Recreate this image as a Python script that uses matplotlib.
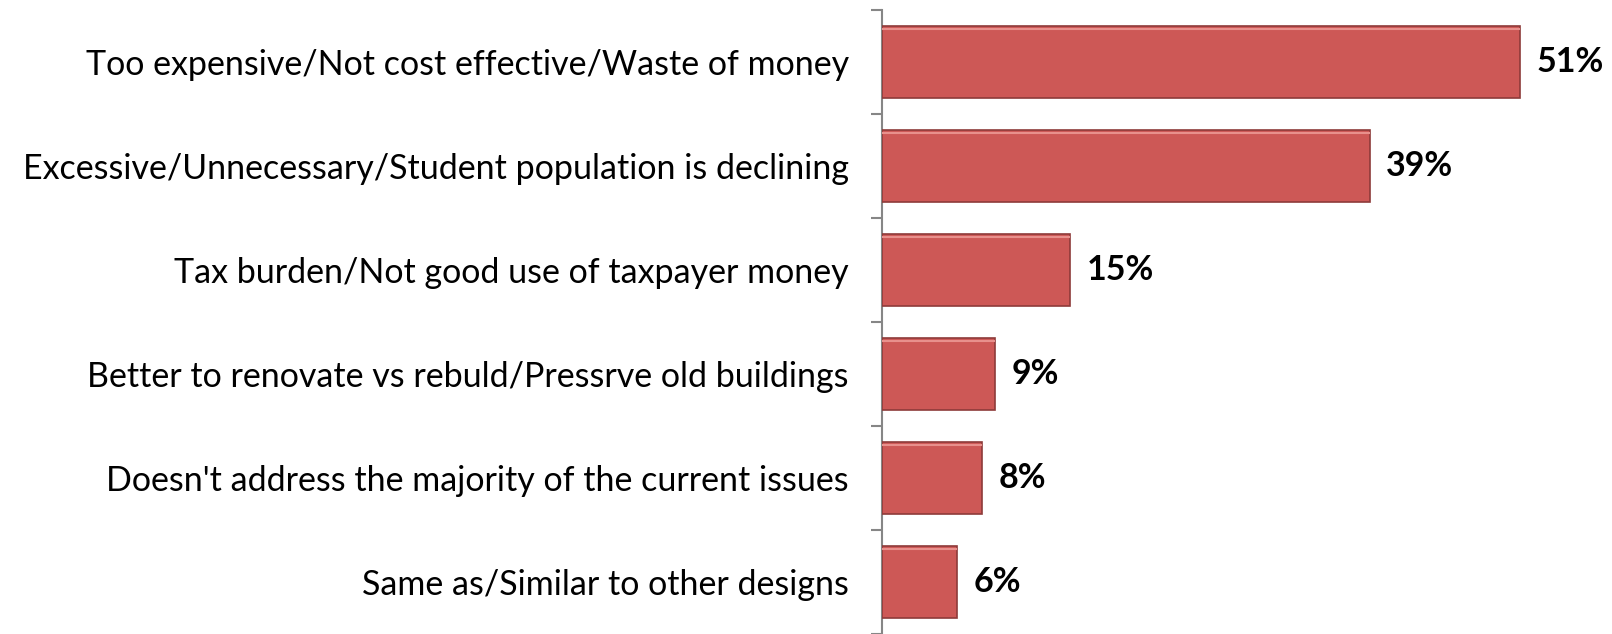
import matplotlib.pyplot as plt
import numpy as np

plt.rcParams['font.family'] = ['Lato', 'DejaVu Sans']

reasons = [
    "Too expensive/Not cost effective/Waste of money",
    "Excessive/Unnecessary/Student population is declining",
    "Tax burden/Not good use of taxpayer money",
    "Better to renovate vs rebuld/Pressrve old buildings",
    "Doesn't address the majority of the current issues",
    "Same as/Similar to other designs",
]
pct = [51, 39, 15, 9, 8, 6]

fig = plt.figure(figsize=(16.12, 6.34), dpi=100)
ax = fig.add_axes([882 / 1612, 0.0, 730 / 1612, 624 / 634])

y = np.arange(len(reasons))
bars = ax.barh(y, pct, height=0.70, color='#CD5856',
               edgecolor='#8E3B3A', linewidth=1.2, zorder=3)

# light bevel along the top of each bar
for b in bars:
    x0, y0, w, h = b.get_x(), b.get_y(), b.get_width(), b.get_height()
    ax.plot([x0, x0 + w], [y0 + 0.03, y0 + 0.03], color='#E8908C',
            lw=1.5, zorder=4, solid_capstyle='butt')

for yi, v in zip(y, pct):
    ax.text(v + 1.35, yi, f"{v}%", va='center', ha='left',
            fontsize=24.5, fontweight='bold', color='black')

ax.set_xlim(0, 58.4)
ax.set_ylim(len(reasons) - 0.5, -0.5)
ax.set_yticks(y)
ax.set_yticklabels(reasons, fontsize=24.5)
ax.set_yticks(np.arange(len(reasons) + 1) - 0.5, minor=True)
ax.tick_params(axis='y', which='major', length=0, pad=24)
ax.tick_params(axis='y', which='minor', length=8, color='#868686', width=1.5)
ax.set_xticks([])

for s in ['top', 'right', 'bottom']:
    ax.spines[s].set_visible(False)
ax.spines['left'].set_color('#868686')
ax.spines['left'].set_linewidth(1.5)

fig.savefig('out.png', dpi=100)
